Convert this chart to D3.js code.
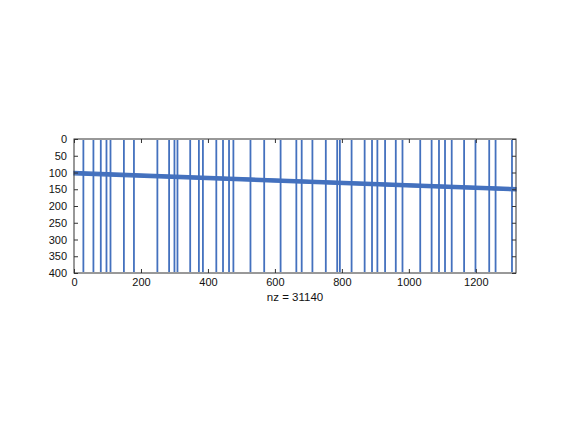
<!DOCTYPE html>
<html>
<head>
<meta charset="utf-8">
<script src="https://cdn.jsdelivr.net/npm/d3@7"></script>
<style>
  html, body { margin: 0; padding: 0; background: #fff; }
  svg { display: block; }
  text { font-family: "Liberation Sans", Arial, Helvetica, sans-serif; }
</style>
</head>
<body>
<svg id="chart" width="570" height="428"></svg>
<script>
// ---- data ----
const nCols = 1320;
const nRows = 400;
const fullColumns = [28, 58, 80, 97, 109, 149, 179, 249, 284, 300, 309, 347, 373, 385,
  425, 445, 463, 476, 527, 568, 617, 664, 680, 712, 752, 786, 794, 829, 868, 890,
  906, 929, 961, 981, 1034, 1068, 1090, 1108, 1128, 1165, 1199, 1240, 1259, 1308];
const bandCols = [0, 1320];
const bandTop = [97, 145];
const bandBottom = [107, 155];
const xTicks = [0, 200, 400, 600, 800, 1000, 1200];
const yTicks = [0, 50, 100, 150, 200, 250, 300, 350, 400];
const nzLabel = "nz = 31140";

// ---- layout ----
const svg = d3.select("#chart");
const mLeft = 74, mRight = 516, mTop = 139, mBottom = 273;
const color = "#4471be";

const x = d3.scaleLinear().domain([0, nCols]).range([mLeft, mRight]);
const y = d3.scaleLinear().domain([0, nRows]).range([mTop, mBottom]);

const g = svg.append("g");

// full columns
g.selectAll("line.col").data(fullColumns).enter().append("line")
  .attr("class", "col")
  .attr("x1", d => x(d)).attr("x2", d => x(d))
  .attr("y1", y(0) + 1).attr("y2", y(nRows) - 1)
  .attr("stroke", color).attr("stroke-width", 1.8);

// diagonal band
const bandData = bandCols.map((c, i) => ({c, t: bandTop[i], b: bandBottom[i]}));
const area = d3.area().x(d => x(d.c)).y0(d => y(d.t)).y1(d => y(d.b));
g.append("path").datum(bandData).attr("d", area)
  .attr("fill", color).attr("stroke", color).attr("stroke-width", 1.2);

// axes
const axisColor = "#333";
const fmt = d3.format("d");
const xb = svg.append("g").attr("transform", `translate(0,${mBottom})`)
  .call(d3.axisBottom(x).tickValues(xTicks).tickFormat(fmt).tickSizeInner(-4).tickSizeOuter(0).tickPadding(5));
const xt = svg.append("g").attr("transform", `translate(0,${mTop})`)
  .call(d3.axisTop(x).tickValues(xTicks).tickSizeInner(-4).tickSizeOuter(0).tickFormat(""));
const yl = svg.append("g").attr("transform", `translate(${mLeft},0)`)
  .call(d3.axisLeft(y).tickValues(yTicks).tickFormat(fmt).tickSizeInner(-4).tickSizeOuter(0).tickPadding(7));
const yr = svg.append("g").attr("transform", `translate(${mRight},0)`)
  .call(d3.axisRight(y).tickValues(yTicks).tickSizeInner(-4).tickSizeOuter(0).tickFormat(""));

[xb, xt, yl, yr].forEach(a => {
  a.select(".domain").remove();
  a.selectAll(".tick line").attr("stroke", axisColor).attr("stroke-width", 1);
  a.selectAll("text").attr("font-size", 11).attr("fill", "#111")
    .attr("font-family", '"Liberation Sans", Arial, sans-serif');
});

svg.append("rect").attr("x", mLeft).attr("y", mTop)
  .attr("width", mRight - mLeft).attr("height", mBottom - mTop)
  .attr("fill", "none").attr("stroke", axisColor).attr("stroke-width", 1);

svg.append("text").attr("x", (mLeft + mRight) / 2).attr("y", 301)
  .attr("text-anchor", "middle").attr("font-size", 11.5).attr("fill", "#111")
  .text(nzLabel);
</script>
</body>
</html>
